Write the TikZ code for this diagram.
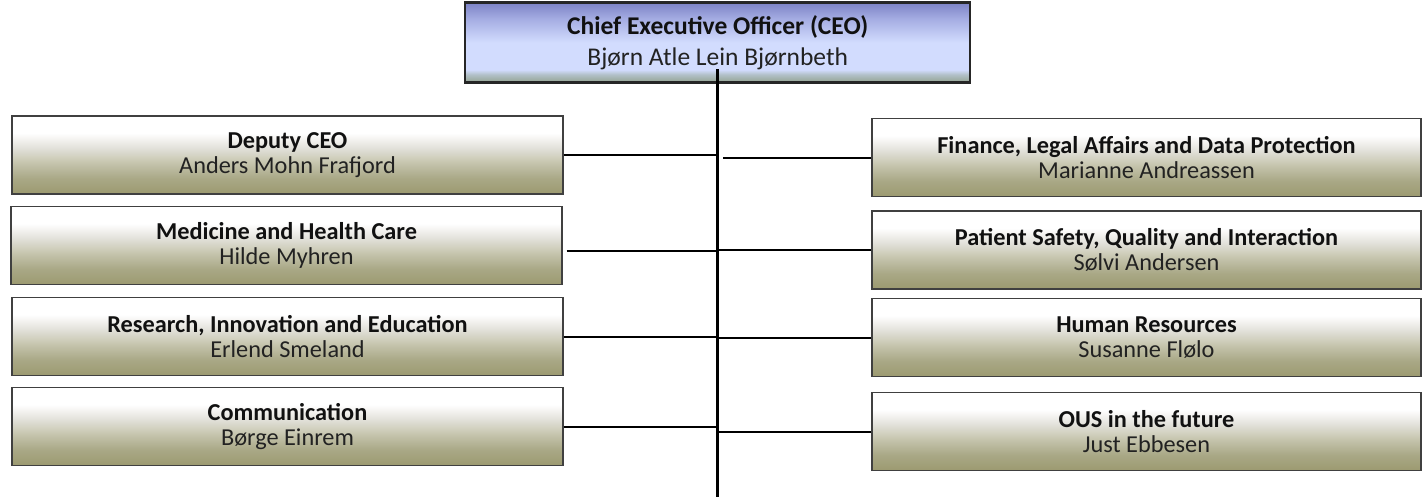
\documentclass[tikz,border=0pt]{standalone}
\usepackage{fontspec}
\setmainfont{Carlito}
\definecolor{olB}{HTML}{9C9A70}
\definecolor{olC}{HTML}{A9A886}
\definecolor{olD}{HTML}{C5C4AD}
\definecolor{olE}{HTML}{E4E3DC}
\definecolor{ceoA}{HTML}{7C82C5}
\definecolor{ceoB}{HTML}{A4ACE2}
\definecolor{ceoC}{HTML}{D2DCFE}
\definecolor{ceoD}{HTML}{B2C0C8}
\definecolor{ceoE}{HTML}{93A390}
\definecolor{boxline}{HTML}{404040}
\definecolor{txtA}{HTML}{111111}
\definecolor{txtB}{HTML}{222222}
\pgfdeclareverticalshading{oliveshade}{100bp}{color(0bp)=(olB); color(25bp)=(olB); color(35bp)=(olC); color(45bp)=(olD); color(55bp)=(olE); color(64bp)=(white); color(100bp)=(white)}
\pgfdeclareverticalshading{ceoshade}{100bp}{color(0bp)=(ceoE); color(25bp)=(ceoE); color(30bp)=(ceoD); color(33bp)=(ceoC); color(50bp)=(ceoC); color(65bp)=(ceoB); color(75bp)=(ceoA); color(100bp)=(ceoA)}
\tikzset{
  unitbox/.style={draw=boxline, line width=1.3pt, shading=oliveshade, inner sep=0pt,
    minimum height=78pt, align=center, text=txtB,
    font=\fontsize{24.3}{25.5}\selectfont},
  leftbox/.style={unitbox, minimum width=551pt},
  rightbox/.style={unitbox, minimum width=549pt},
  ceobox/.style={draw=black!85, line width=2.4pt, shading=ceoshade, inner sep=0pt,
    minimum width=505pt, minimum height=80pt, align=center, text=txtB,
    font=\fontsize{25.5}{30.5}\selectfont},
  conn/.style={draw=black, line width=2pt},
  trunk/.style={draw=black, line width=2.4pt}
}
\newcommand{\hd}[1]{{\bfseries\color{txtA}#1}}
\begin{document}
\begin{tikzpicture}[x=1pt,y=-1pt]
\useasboundingbox (0,0) rectangle (1422,498);
\node[ceobox] (ceo) at (717.75,42.5) {\hd{Chief Executive Officer (CEO)}\\Bjørn Atle Lein Bjørnbeth};

\node[leftbox] (dep) at (287.5,155) {\hd{Deputy CEO}\\Anders Mohn Frafjord};
\node[leftbox] (med) at (286.5,245.5) {\hd{Medicine and Health Care}\\Hilde Myhren};
\node[leftbox] (res) at (287.5,336.5) {\hd{Research, Innovation and Education}\\Erlend Smeland};
\node[leftbox] (com) at (287.5,426.5) {\hd{Communication}\\Børge Einrem};

\node[rightbox] (fin) at (1146.5,157.5) {\hd{Finance, Legal Affairs and Data Protection}\\Marianne Andreassen};
\node[rightbox] (pat) at (1146.5,250) {\hd{Patient Safety, Quality and Interaction}\\Sølvi Andersen};
\node[rightbox] (hr) at (1146.5,337.5) {\hd{Human Resources}\\Susanne Flølo};
\node[rightbox] (ous) at (1146.5,431.5) {\hd{OUS in the future}\\Just Ebbesen};

\coordinate (ttop) at (717.5,69);
\coordinate (tbot) at (717.5,497);
\coordinate (fgap) at (722.5,157);
\draw[trunk] (ttop) -- (tbot);

\draw[conn] (dep.east) -- (dep.east -| ttop);
\draw[conn] ([xshift=4pt,yshift=-5.5pt]med.east) -- ([yshift=-5.5pt]med.east -| ttop);
\draw[conn] (res.east) -- (res.east -| ttop);
\draw[conn] (com.east) -- (com.east -| ttop);

\draw[conn] (fin.west) -- (fin.west -| fgap);
\draw[conn] (pat.west) -- (pat.west -| ttop);
\draw[conn] (hr.west) -- (hr.west -| ttop);
\draw[conn] (ous.west) -- (ous.west -| ttop);
\end{tikzpicture}
\end{document}
